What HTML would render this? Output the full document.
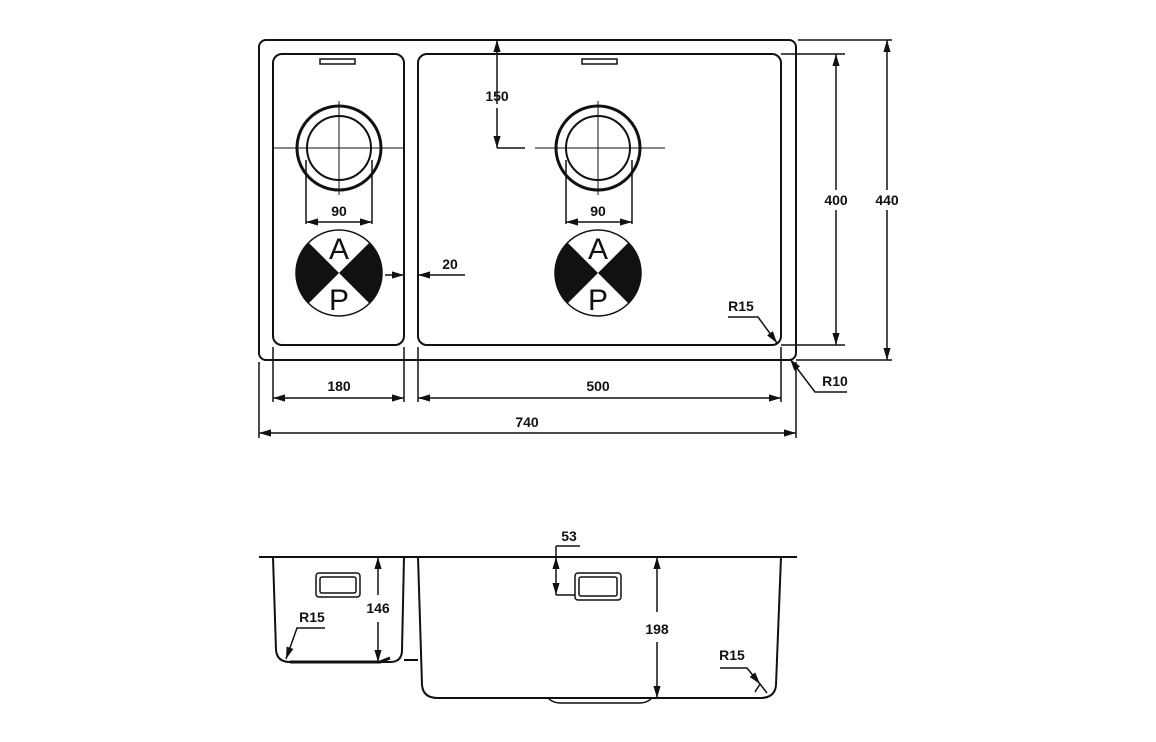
<!DOCTYPE html>
<html><head><style>
html,body{margin:0;padding:0;background:#fff;width:1156px;height:742px;overflow:hidden}
text{font-family:"Liberation Sans",sans-serif;font-weight:bold;font-size:14px;fill:#111;text-anchor:middle}
</style></head><body>
<svg width="1156" height="742" viewBox="0 0 1156 742" xmlns="http://www.w3.org/2000/svg">
<defs>
<marker id="a" viewBox="0 0 10 10" refX="10" refY="5" markerWidth="8" markerHeight="8" orient="auto-start-reverse"><path d="M0,2 L10,5 L0,8 z" fill="#111"/></marker>
</defs>
<g stroke="#111" fill="none" stroke-width="2">
<!-- top view -->
<rect x="259" y="40" width="537" height="320" rx="7"/>
<rect x="273" y="54" width="131" height="291" rx="9"/>
<rect x="418" y="54" width="363" height="291" rx="9"/>
<rect x="320" y="59" width="35" height="5" stroke-width="1.5"/>
<rect x="582" y="59" width="35" height="5" stroke-width="1.5"/>
<circle cx="339" cy="148" r="42" stroke-width="3"/>
<circle cx="339" cy="148" r="32"/>
<circle cx="598" cy="148" r="42" stroke-width="3"/>
<circle cx="598" cy="148" r="32"/>
<g stroke-width="1">
<line x1="273" y1="148" x2="404" y2="148"/><line x1="339" y1="101" x2="339" y2="195"/>
<line x1="535" y1="148" x2="665" y2="148"/><line x1="598" y1="101" x2="598" y2="195"/>
</g>
<line x1="306" y1="160" x2="306" y2="224" stroke-width="1.5"/><line x1="372" y1="160" x2="372" y2="224" stroke-width="1.5"/>
<line x1="306" y1="222" x2="372" y2="222" marker-start="url(#a)" marker-end="url(#a)" stroke-width="1.5"/>
<line x1="566" y1="160" x2="566" y2="224" stroke-width="1.5"/><line x1="632" y1="160" x2="632" y2="224" stroke-width="1.5"/>
<line x1="566" y1="222" x2="632" y2="222" marker-start="url(#a)" marker-end="url(#a)" stroke-width="1.5"/>
<!-- 150 -->
<line x1="497" y1="104" x2="497" y2="40" marker-end="url(#a)" stroke-width="1.5"/>
<line x1="497" y1="108" x2="497" y2="148" marker-end="url(#a)" stroke-width="1.5"/>
<line x1="497" y1="148" x2="525" y2="148" stroke-width="1.5"/>
<!-- 20 -->
<line x1="385" y1="275" x2="404" y2="275" marker-end="url(#a)" stroke-width="1.5"/>
<line x1="465" y1="275" x2="418" y2="275" marker-end="url(#a)" stroke-width="1.5"/>
<!-- right dims -->
<line x1="781" y1="54" x2="845" y2="54" stroke-width="1.5"/>
<line x1="781" y1="345" x2="845" y2="345" stroke-width="1.5"/>
<line x1="836" y1="190" x2="836" y2="54" marker-end="url(#a)" stroke-width="1.5"/>
<line x1="836" y1="210" x2="836" y2="345" marker-end="url(#a)" stroke-width="1.5"/>
<line x1="798" y1="40" x2="892" y2="40" stroke-width="1.5"/>
<line x1="796" y1="360" x2="892" y2="360" stroke-width="1.5"/>
<line x1="887" y1="190" x2="887" y2="40" marker-end="url(#a)" stroke-width="1.5"/>
<line x1="887" y1="210" x2="887" y2="360" marker-end="url(#a)" stroke-width="1.5"/>
<polyline points="728,317 758,317 777,343" marker-end="url(#a)" stroke-width="1.5"/>
<polyline points="847,392 815,392 790,359" marker-end="url(#a)" stroke-width="1.5"/>
<!-- bottom dims -->
<line x1="259" y1="362" x2="259" y2="438" stroke-width="1.5"/>
<line x1="273" y1="347" x2="273" y2="402" stroke-width="1.5"/>
<line x1="404" y1="347" x2="404" y2="402" stroke-width="1.5"/>
<line x1="418" y1="347" x2="418" y2="402" stroke-width="1.5"/>
<line x1="781" y1="347" x2="781" y2="402" stroke-width="1.5"/>
<line x1="796" y1="362" x2="796" y2="438" stroke-width="1.5"/>
<line x1="273" y1="398" x2="404" y2="398" marker-start="url(#a)" marker-end="url(#a)" stroke-width="1.5"/>
<line x1="418" y1="398" x2="781" y2="398" marker-start="url(#a)" marker-end="url(#a)" stroke-width="1.5"/>
<line x1="259" y1="433" x2="796" y2="433" marker-start="url(#a)" marker-end="url(#a)" stroke-width="1.5"/>
<!-- side view -->
<line x1="259" y1="557" x2="797" y2="557"/>
<path d="M273,557 L276,650 Q277,662 290,662 L390,662 Q402,662 402,650 L404,557"/>
<path d="M404,660 L418,660"/>
<path d="M418,557 L422,685 Q423,698 438,698 L760,698 Q775,698 776,685 L781,557"/>
<path d="M548,698 Q553,703 560,703 L640,703 Q647,703 652,698" stroke-width="1.5"/>
<path d="M290,662 L380,662 L390,658" stroke-width="3"/>
<rect x="316" y="573" width="44" height="24" rx="3" stroke-width="1.5"/>
<rect x="320" y="577" width="36" height="16" rx="2" stroke-width="1.5"/>
<rect x="575" y="573" width="46" height="27" rx="3" stroke-width="1.5"/>
<rect x="579" y="577" width="38" height="19" rx="2" stroke-width="1.5"/>
<line x1="378" y1="595" x2="378" y2="557" marker-end="url(#a)" stroke-width="1.5"/>
<line x1="378" y1="622" x2="378" y2="662" marker-end="url(#a)" stroke-width="1.5"/>
<line x1="657" y1="612" x2="657" y2="557" marker-end="url(#a)" stroke-width="1.5"/>
<line x1="657" y1="642" x2="657" y2="698" marker-end="url(#a)" stroke-width="1.5"/>
<line x1="556" y1="546" x2="580" y2="546" stroke-width="1.5"/>
<line x1="556" y1="546" x2="556" y2="557" stroke-width="1.5"/>
<line x1="556" y1="575" x2="556" y2="557" marker-end="url(#a)" stroke-width="1.5"/>
<line x1="556" y1="575" x2="556" y2="595" marker-end="url(#a)" stroke-width="1.5"/>
<line x1="556" y1="595" x2="575" y2="595" stroke-width="1.5"/>
<polyline points="325,628 297,628 286,659" marker-end="url(#a)" stroke-width="1.5"/>
<polyline points="720,668 747,668 760,684" marker-end="url(#a)" stroke-width="1.5"/>
<path d="M755,692 L760,684 L767,693" stroke-width="1.5"/>
</g>
<!-- AP symbols -->
<g>
<circle cx="339" cy="273" r="43" fill="#fff" stroke="#111" stroke-width="1.5"/>
<path d="M339,273 L308.6,242.6 A43,43 0 0 0 308.6,303.4 Z M339,273 L369.4,242.6 A43,43 0 0 1 369.4,303.4 Z" fill="#111"/>
<circle cx="598" cy="273" r="43" fill="#fff" stroke="#111" stroke-width="1.5"/>
<path d="M598,273 L567.6,242.6 A43,43 0 0 0 567.6,303.4 Z M598,273 L628.4,242.6 A43,43 0 0 1 628.4,303.4 Z" fill="#111"/>
</g>
<g style="font-weight:normal;font-size:30px">
<text x="339" y="259" style="font-weight:normal;font-size:30px">A</text>
<text x="339" y="310" style="font-weight:normal;font-size:30px">P</text>
<text x="598" y="259" style="font-weight:normal;font-size:30px">A</text>
<text x="598" y="310" style="font-weight:normal;font-size:30px">P</text>
</g>
<text x="339" y="216">90</text><text x="598" y="216">90</text>
<text x="497" y="101">150</text>
<text x="450" y="269">20</text>
<text x="836" y="205">400</text>
<text x="887" y="205">440</text>
<text x="741" y="311">R15</text>
<text x="835" y="386">R10</text>
<text x="339" y="391">180</text>
<text x="598" y="391">500</text>
<text x="527" y="427">740</text>
<text x="569" y="541">53</text>
<text x="378" y="613">146</text>
<text x="657" y="634">198</text>
<text x="312" y="622">R15</text>
<text x="732" y="660">R15</text>
</svg>
</body></html>
